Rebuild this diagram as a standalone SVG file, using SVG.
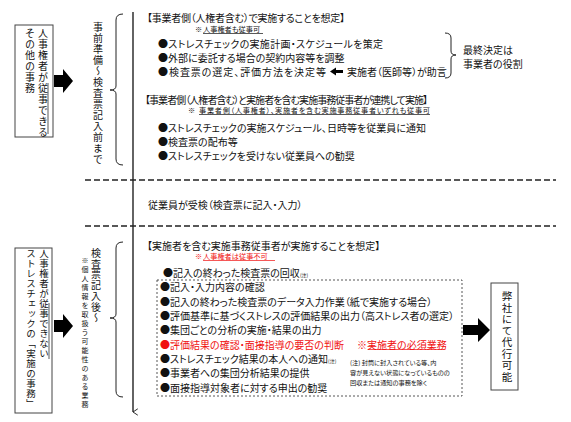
<svg xmlns="http://www.w3.org/2000/svg" width="571" height="422" viewBox="0 0 571 422">
<defs>
<style>
.t{font-family:"Noto Sans CJK JP","Noto Sans",sans-serif;font-size:10px;fill:#111;dominant-baseline:central;font-feature-settings:"palt";}
.n{font-size:7.2px;}
.red{fill:#f01010;}
.fn{font-size:6.2px;}
.sub{font-size:5px;}
.v{font-family:"Noto Sans CJK JP","Noto Sans",sans-serif;fill:#111;writing-mode:vertical-rl;font-size:10px;}
.box{fill:#fff;stroke:#444;stroke-width:1;}
.ln{fill:none;stroke:#222;stroke-width:1;}
.dash{fill:none;stroke:#222;stroke-width:1.6;stroke-dasharray:6 3;}
.dot{fill:none;stroke:#444;stroke-width:0.9;stroke-dasharray:2 2;}
.blk{fill:#000;}
.ul{stroke:#111;stroke-width:0.7;}
.ulr{stroke:#f01010;stroke-width:0.7;}
</style>
<marker id="ah" viewBox="0 0 10 10" refX="5" refY="9" markerWidth="8" markerHeight="8" markerUnits="userSpaceOnUse" orient="auto-start-reverse">
<path d="M1,3 L5,9 L9,3" fill="none" stroke="#222" stroke-width="1.2"/>
</marker>
</defs>
<rect width="571" height="422" fill="#fff"/>

<g id="connectors">
<line x1="133" y1="12" x2="133" y2="412" stroke="#222" stroke-width="1.4" marker-end="url(#ah)"/>
<line class="dash" x1="85" y1="180" x2="556" y2="180"/>
<line class="dash" x1="85" y1="226" x2="556" y2="226"/>
<polygon class="blk" points="54,75 63,75 63,69 73,81 63,93 63,87 54,87"/>
<polygon class="blk" points="54,320 63,320 63,314 73,326 63,338 63,332 54,332"/>
<polygon class="blk" points="463,325 478,325 478,318 490,330 478,342 478,335 463,335"/>
<polygon class="blk" points="330,71.5 336,67.5 336,70 343,70 343,73 336,73 336,75.5"/>
<path class="ln" d="M123,14 Q116,14 116,20 L116,86 Q116,90 110,90 Q116,90 116,94 L116,159 Q116,165 123,165"/>
<path class="ln" d="M445,33 Q451,33 451,38 L451,51 Q451,55 456,55 Q451,55 451,59 L451,73 Q451,78 445,78"/>
<path class="ln" d="M123,242 Q116,242 116,248 L116,314 Q116,318 110,318 Q116,318 116,322 L116,391 Q116,397 123,397"/>
</g>

<g id="node-left1">
<rect class="box" x="15" y="25" width="38" height="112"/>
<text class="v" x="43" y="28" style="letter-spacing:1px">人事権者が従事できる</text>
<text class="v" x="30" y="28" style="letter-spacing:1px">その他の事務</text>
<line class="ul" x1="48" y1="83" x2="48" y2="134"/>
</g>

<g id="node-phase1-label">
<text class="v" x="98" y="22" style="letter-spacing:1px">事前準備～検査票記入前まで</text>
</g>

<g id="node-section1">
<text class="t" x="147" y="17" textLength="198">【事業者側（人権者含む）で実施することを想定】</text>
<text class="t n" x="195" y="29">※</text>
<text class="t n" x="203" y="29">人事権者も従事可</text>
<line class="ul" x1="203" y1="33.5" x2="263" y2="33.5"/>
<text class="t" x="158" y="43.5" textLength="225">●ストレスチェックの実施計画・スケジュールを策定</text>
<text class="t" x="158" y="57.5">●外部に委託する場合の契約内容等を調整</text>
<text class="t" x="158" y="71.5" textLength="168">●検査票の選定、評価方法を決定等</text>
<text class="t" x="347" y="71.5">実施者（医師等）が助言</text>
<text class="t" x="463" y="49">最終決定は</text>
<text class="t" x="463" y="63">事業者の役割</text>
</g>

<g id="node-section2">
<text class="t" x="145" y="99" textLength="283">【事業者側（人権者含む）と実施者を含む実施事務従事者が連携して実施】</text>
<text class="t n" x="188" y="110">※</text>
<text class="t n" x="199" y="110" textLength="231">事業者側（人事権者）、実施者を含む実施事務従事者いずれも従事可</text>
<line class="ul" x1="199" y1="114.5" x2="430" y2="114.5"/>
<text class="t" x="158" y="127" textLength="268">●ストレスチェックの実施スケジュール、日時等を従業員に通知</text>
<text class="t" x="158" y="141">●検査票の配布等</text>
<text class="t" x="158" y="155">●ストレスチェックを受けない従業員への勧奨</text>
</g>

<g id="node-exam">
<text class="t" x="148" y="204">従業員が受検（検査票に記入・入力）</text>
</g>

<g id="node-left2">
<rect class="box" x="15" y="248" width="37" height="165"/>
<text class="v" x="44" y="249" style="letter-spacing:0.5px;font-size:9.5px">人事権者が従事できない</text>
<text class="v" x="31" y="249" style="letter-spacing:0.5px;font-size:9.5px">ストレスチェックの「実施の事務」</text>
<line class="ul" x1="49" y1="303" x2="49" y2="359"/>
</g>

<g id="node-phase2-label">
<text class="v" x="96" y="248" style="letter-spacing:0.8px">検査票記入後～</text>
<text class="v" x="85" y="257" style="font-size:7px;letter-spacing:2px">※個人情報を取扱う可能性のある業務</text>
</g>

<g id="node-section3">
<text class="t" x="147" y="245">【実施者を含む実施事務従事者が実施することを想定】</text>
<text class="t n red" x="195" y="256">※</text>
<text class="t n red" x="203" y="256">人事権者は従事不可</text>
<line class="ulr" x1="203" y1="260.5" x2="275" y2="260.5"/>
<text class="t" x="163" y="272">●記入の終わった検査票の回収<tspan class="sub" dy="2">(注)</tspan></text>
<rect class="dot" x="157" y="280" width="305" height="116"/>
<text class="t" x="160" y="286.5">●記入・入力内容の確認</text>
<text class="t" x="160" y="301">●記入の終わった検査票のデータ入力作業（紙で実施する場合）</text>
<text class="t" x="160" y="315" textLength="294">●評価基準に基づくストレスの評価結果の出力（高ストレス者の選定）</text>
<text class="t" x="160" y="329.5">●集団ごとの分析の実施・結果の出力</text>
<text class="t red" x="160" y="344">●評価結果の確認・面接指導の要否の判断</text>
<text class="t red" x="357" y="344">※実施者の必須業務</text>
<line class="ulr" x1="368" y1="349.5" x2="444" y2="349.5"/>
<text class="t" x="160" y="358">●ストレスチェック結果の本人への通知<tspan class="sub" dy="2">(注)</tspan></text>
<text class="t" x="160" y="372.5">●事業者への集団分析結果の提供</text>
<text class="t" x="160" y="387">●面接指導対象者に対する申出の勧奨</text>
<text class="t fn" x="350" y="362">(注) 封筒に封入されている等、内</text>
<text class="t fn" x="350" y="372">容が見えない状態になっているものの</text>
<text class="t fn" x="350" y="382">回収または通知の事務を除く</text>
</g>

<g id="node-right">
<rect class="box" x="491" y="283" width="27" height="107"/>
<text class="v" x="507" y="291" style="font-size:10.5px;letter-spacing:1px">弊社にて代行可能</text>
</g>
</svg>
